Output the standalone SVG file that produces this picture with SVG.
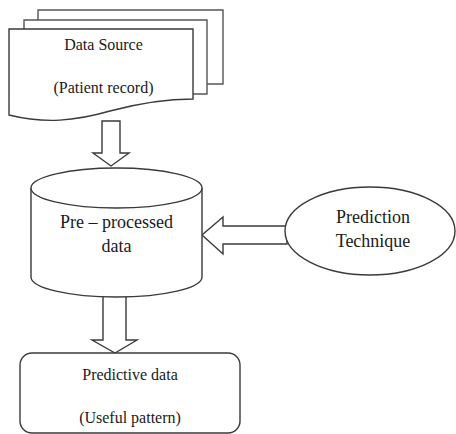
<svg xmlns="http://www.w3.org/2000/svg" width="456" height="434" viewBox="0 0 456 434">
  <style>
    .shape { fill: #ffffff; stroke: #3a3a3a; stroke-width: 1.4; stroke-linejoin: miter; }
    .back { stroke: #555555; }
    .arrow { fill: #ffffff; stroke: #3a3a3a; stroke-width: 1.4; stroke-linejoin: miter; }
    .label { font-family: "Liberation Serif", "DejaVu Serif", serif; fill: #1a1a1a; text-anchor: middle; }
    .s16 { font-size: 16px; }
    .s18 { font-size: 18px; }
  </style>
  <rect width="456" height="434" fill="#ffffff"/>

  <!-- block arrows between the stages -->
  <g id="connectors">
    <polygon class="arrow" points="102,121 120,121 120,153 129,153 111,166 93,153 102,153"/>
    <polygon class="arrow" points="103,294 126,294 126,340 137,340 115,353 92,340 103,340"/>
    <polygon class="arrow" points="287,226 223,226 223,217 202,235 223,254 223,244 287,244"/>
  </g>

  <!-- stacked document: data source -->
  <g id="data-source">
    <path class="shape back" d="M38,10 H223 V84 H209 V84 L38,84 Z"/>
    <path class="shape back" d="M24,20 H207 V94 H193 L24,94 Z"/>
    <path class="shape" d="M9,29 H193 V99 C170,99 140,103 110,111 C75,121 45,124 9,115 Z"/>
    <text class="label s16" x="103.5" y="50">Data Source</text>
    <text class="label s16" x="103.5" y="93">(Patient record)</text>
  </g>

  <!-- cylinder: pre-processed data store -->
  <g id="preprocessed-data">
    <path class="shape" d="M31,188 V277 A85.5,20 0 0 0 202,277 V188"/>
    <ellipse class="shape" cx="116.5" cy="188" rx="85.5" ry="20"/>
    <text class="label s18" x="116.5" y="228">Pre – processed</text>
    <text class="label s18" x="116.5" y="252">data</text>
  </g>

  <!-- ellipse: prediction technique -->
  <g id="prediction-technique">
    <ellipse class="shape" cx="370" cy="231" rx="85" ry="44"/>
    <text class="label s18" x="373" y="223">Prediction</text>
    <text class="label s18" x="373" y="247">Technique</text>
  </g>

  <!-- rounded box: predictive data -->
  <g id="predictive-data">
    <rect class="shape" x="20" y="353" width="220" height="80" rx="12" ry="12"/>
    <text class="label s16" x="130" y="380">Predictive data</text>
    <text class="label s16" x="130" y="423">(Useful pattern)</text>
  </g>
</svg>
